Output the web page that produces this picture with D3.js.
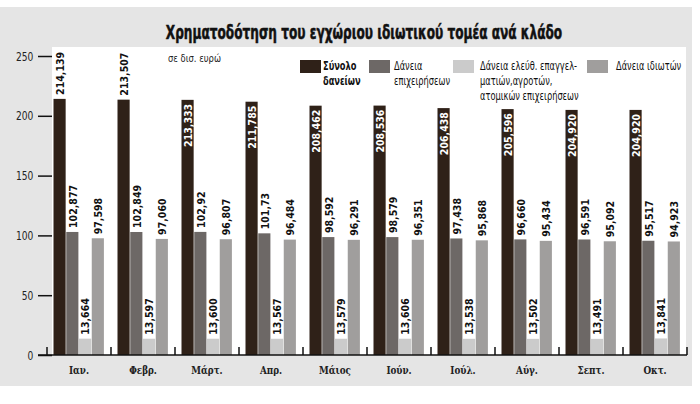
<!DOCTYPE html>
<html lang="el">
    <head>
        <meta charset="utf-8">
        <style>
            body { margin: 0; background: #fff; }
            .narrow { font-family: "Liberation Sans Narrow", "DejaVu Sans Condensed", "Roboto", sans-serif; }
        </style>
        <script src="https://d3js.org/d3.v7.min.js"></script>
    </head>
    <body>
        <svg width="700" height="404"></svg>
        <script>
            // data (values in bn euro, as printed)
            var months = ["Ιαν.", "Φεβρ.", "Μάρτ.", "Απρ.", "Μάιος", "Ιούν.", "Ιούλ.", "Αύγ.", "Σεπτ.", "Οκτ."];
            var totalLoans = ["214,139", "213,507", "213,333", "211,785", "208,462", "208,536", "206,438", "205,596", "204,920", "204,920"];
            var businessLoans = ["102,877", "102,849", "102,92", "101,73", "98,592", "98,579", "97,438", "96,660", "96,591", "95,517"];
            var professionalLoans = ["13,664", "13,597", "13,600", "13,567", "13,579", "13,606", "13,538", "13,502", "13,491", "13,841"];
            var personalLoans = ["97,598", "97,060", "96,807", "96,484", "96,291", "96,351", "95,868", "95,434", "95,092", "94,923"];
            var legendLines = [
                ["Σύνολο", "δανείων"],
                ["Δάνεια", "επιχειρήσεων"],
                ["Δάνεια ελεύθ. επαγγελ-", "ματιών,αγροτών,", "ατομικών επιχειρήσεων"],
                ["Δάνεια ιδιωτών"]
            ];
            var yTicks = [0, 50, 100, 150, 200, 250];

            var series = [totalLoans, businessLoans, professionalLoans, personalLoans];
            var colors = ["#2f2118", "#6d6866", "#cbcbcb", "#a09e9d"];

            var svg = d3.select("svg");

            // background panel + white plot area
            svg.append("rect").attr("x", 0).attr("y", 7).attr("width", 692).attr("height", 379).attr("fill", "#e5e5e5");
            svg.append("rect").attr("x", 52).attr("y", 47).attr("width", 634).attr("height", 308).attr("fill", "#fff");

            var x = d3.scaleBand().domain(months).range([47, 687]);
            var xInner = d3.scaleBand().domain(d3.range(4)).range([6.5, x.bandwidth() - 6.5]);
            var y = d3.scaleLinear().domain([0, 250]).range([355, 56]);

            function num(s) { return +s.replace(",", "."); }

            // title (squeezed horizontally, the original uses a condensed face)
            svg.append("g").attr("transform", "translate(364,39)")
              .append("text")
                .attr("transform", "scale(0.71,1)")
                .attr("text-anchor", "middle")
                .attr("class", "narrow")
                .attr("font-weight", "bold")
                .attr("font-size", 19)
                .attr("fill", "#111")
                .attr("stroke", "#111")
                .attr("stroke-width", 0.5)
                .text("Χρηματοδότηση του εγχώριου ιδιωτικού τομέα ανά κλάδο");

            svg.append("g").attr("transform", "translate(168,62)")
              .append("text")
                .attr("transform", "scale(0.85,1)")
                .attr("class", "narrow")
                .attr("font-size", 11)
                .attr("fill", "#222")
                .text("σε δισ. ευρώ");

            // legend
            var legendX = [300, 369, 453, 587];
            var legendTextX = [323, 394, 480, 616];
            legendLines.forEach(function(lines, i) {
                svg.append("rect")
                    .attr("x", legendX[i]).attr("y", 60)
                    .attr("width", 21).attr("height", 13)
                    .attr("fill", colors[i]);
                var t = svg.append("g")
                    .attr("transform", "translate(" + legendTextX[i] + ",0)")
                  .append("text")
                    .attr("transform", "scale(0.8,1)")
                    .attr("class", "narrow")
                    .attr("font-size", 11.5)
                    .attr("font-weight", i == 0 ? "bold" : "normal")
                    .attr("fill", "#111");
                lines.forEach(function(line, j) {
                    t.append("tspan")
                        .attr("x", 0)
                        .attr("y", 70 + j * 15)
                        .text(line);
                });
            });

            // bars
            var groups = svg.append("g").selectAll("g")
                .data(months)
                .join("g")
                .attr("transform", function(d) { return "translate(" + x(d) + ",0)"; });

            function cells(d, i) {
                return series.map(function(s, k) { return {k: k, i: i, label: s[i], v: num(s[i])}; });
            }

            groups.selectAll("rect")
                .data(cells)
                .join("rect")
                .attr("x", function(d) { return xInner(d.k); })
                .attr("width", xInner.bandwidth() - 0.6)
                .attr("y", function(d) { return y(d.v); })
                .attr("height", function(d) { return y(0) - y(d.v); })
                .attr("fill", function(d) { return colors[d.k]; });

            // value labels, rotated; totals after February sit inside the bar
            function inside(d) { return d.k == 0 && d.i >= 2; }
            groups.selectAll("text")
                .data(cells)
                .join("text")
                .attr("transform", function(d) {
                    var cx = xInner(d.k) + xInner.bandwidth() / 2 + 4;
                    var ty = inside(d) ? y(d.v) + 4 : y(d.v) - 4;
                    return "translate(" + cx + "," + ty + ") rotate(-90)";
                })
                .attr("text-anchor", function(d) { return inside(d) ? "end" : "start"; })
                .attr("font-family", "'DejaVu Sans Condensed', 'DejaVu Sans', sans-serif")
                .attr("font-weight", "bold")
                .attr("font-size", 10.5)
                .attr("fill", function(d) { return inside(d) ? "#fff" : "#111"; })
                .text(function(d) { return d.label; });

            // y axis
            var yAxis = svg.append("g").attr("transform", "translate(52,0)")
                .call(d3.axisLeft(y).tickValues(yTicks).tickSize(14).tickPadding(10));
            yAxis.select(".domain").remove();
            yAxis.selectAll("line").attr("stroke", "#111").attr("stroke-width", 1.5);
            yAxis.selectAll("text")
                .attr("transform", "scale(0.78,1)")
                .attr("class", "narrow")
                .attr("font-size", 13)
                .attr("fill", "#222");

            // x axis
            svg.append("line")
                .attr("x1", 38).attr("x2", 687)
                .attr("y1", y(0)).attr("y2", y(0))
                .attr("stroke", "#111").attr("stroke-width", 1.5);
            svg.append("g").selectAll("line")
                .data(months.map(function(m) { return x(m); }).concat([x.range()[1]]))
                .join("line")
                .attr("x1", function(d) { return d; }).attr("x2", function(d) { return d; })
                .attr("y1", y(0)).attr("y2", y(0) - 8)
                .attr("stroke", "#111").attr("stroke-width", 1.5);

            var xAxis = svg.append("g").attr("transform", "translate(0," + y(0) + ")")
                .call(d3.axisBottom(x).tickSize(0).tickPadding(11));
            xAxis.select(".domain").remove();
            xAxis.selectAll("text")
                .attr("transform", "scale(0.85,1)")
                .attr("font-family", "'DejaVu Serif Condensed', 'DejaVu Serif', serif")
                .attr("font-weight", "bold")
                .attr("font-size", 11.5)
                .attr("fill", "#222");
        </script>
    </body>
</html>
